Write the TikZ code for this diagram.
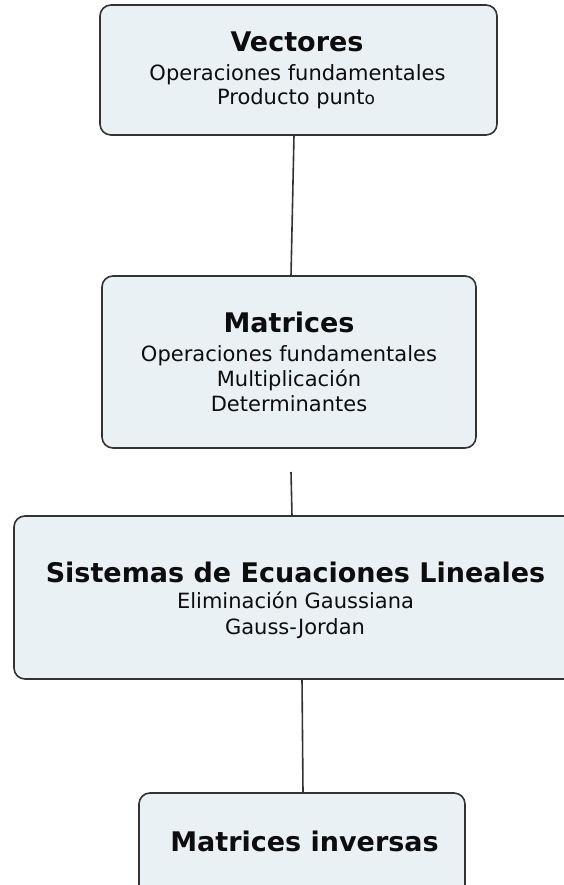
\documentclass[tikz,border=0pt]{standalone}
\usepackage{fontspec}
\setmainfont{DejaVu Sans}
\definecolor{boxfill}{HTML}{EAF1F4}
\definecolor{boxline}{HTML}{333333}
\definecolor{txt}{HTML}{0D0D0D}
\begin{document}
\begin{tikzpicture}[x=1pt,y=-1pt,
  box/.style={draw=boxline,fill=boxfill,line width=1.6pt,rounded corners=11pt,inner sep=0pt},
  ttl/.style={anchor=base,inner sep=0pt,text=txt,font=\fontsize{27}{32}\selectfont\bfseries},
  sub/.style={anchor=base,inner sep=0pt,text=txt,font=\fontsize{21}{25}\selectfont},
  conn/.style={draw=boxline,line width=1.6pt}]
\clip (0,0) rectangle (564,885);
\fill[white] (0,0) rectangle (564,885);
% boxes
\node[box,minimum width=397pt,minimum height=130pt] (vec) at (298.5,70) {};
\node[box,minimum width=374pt,minimum height=172pt] (mat) at (289,362) {};
\node[box,minimum width=600pt,minimum height=163pt] (sis) at (314,597.5) {};
\node[box,minimum width=326pt,minimum height=140pt] (inv) at (302,863) {};
% texts
\node[ttl] (vt) at (297,52) {Vectores};
\node[sub] (v1) at (297.5,81) {Operaciones fundamentales};
\node[sub] (v2) at (296,105) {Producto punt{\fontsize{17}{20}\selectfont o}};
\node[ttl] (mt) at (289,332.7) {Matrices};
\node[sub] (m1) at (289,361.7) {Operaciones fundamentales};
\node[sub] (m2) at (289,386.7) {Multiplicación};
\node[sub] (m3) at (289,411.7) {Determinantes};
\node[ttl] (st) at (295.5,582) {Sistemas de Ecuaciones Lineales};
\node[sub] (s1) at (295.5,608.5) {Eliminación Gaussiana};
\node[sub] (s2) at (295,634) {Gauss-Jordan};
\node[ttl] (it) at (304.5,851) {Matrices inversas};
% connectors
\coordinate (c1a) at (294,135);
\coordinate (c1b) at (291,276);
\coordinate (c2a) at (291,472);
\coordinate (c2b) at (292,516);
\coordinate (c3a) at (302,679);
\coordinate (c3b) at (303,793);
\draw[conn] (c1a) -- (c1b);
\draw[conn] (c2a) -- (c2b);
\draw[conn] (c3a) -- (c3b);
\end{tikzpicture}
\end{document}
